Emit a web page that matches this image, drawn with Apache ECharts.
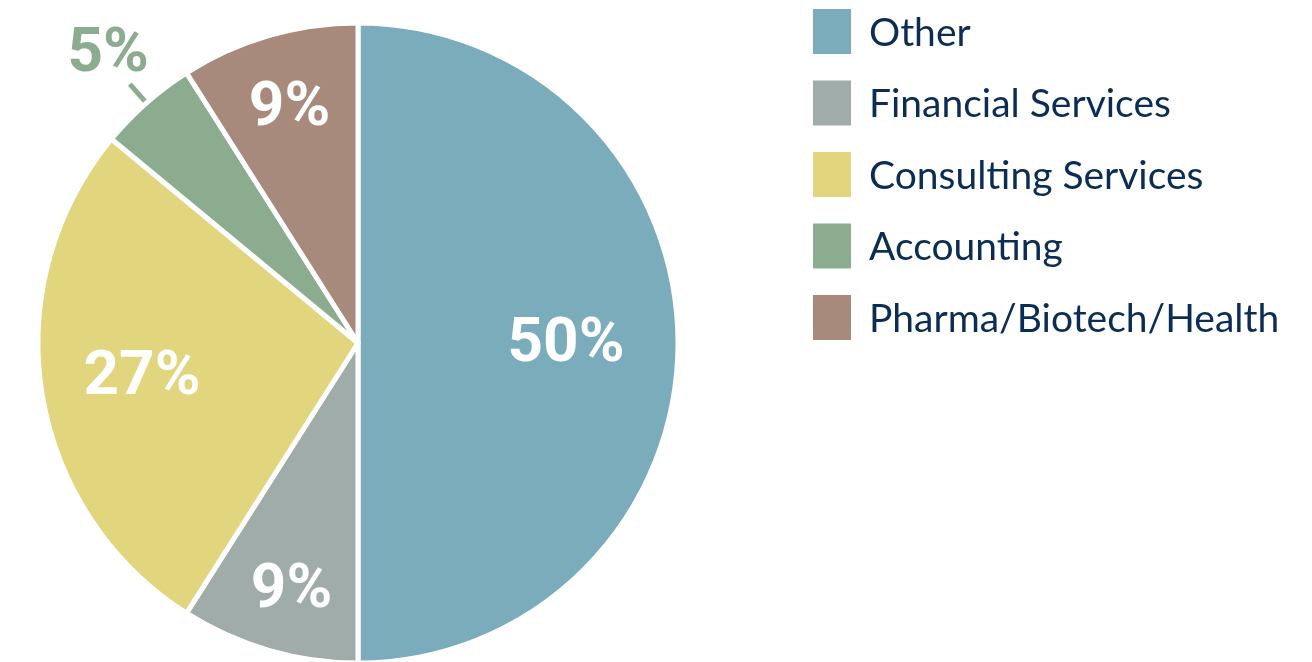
<!DOCTYPE html>
<html>
<head>
<meta charset="utf-8">
<script src="https://cdn.jsdelivr.net/npm/echarts@6/dist/echarts.min.js"></script>
<style>
html,body{margin:0;padding:0;background:#fff;}
#c{width:1312px;height:662px;}
</style>
</head>
<body>
<div id="c"></div>
<script>
const categories = ['Other', 'Financial Services', 'Consulting Services', 'Accounting', 'Pharma/Biotech/Health'];
const shares = [50, 9, 27, 5, 9];
const colors = ['#7AACBB', '#9FACA9', '#E1D57D', '#8CAC90', '#A78A7B'];

const labelFont = 'Roboto, "Liberation Sans", sans-serif';
// label offsets (layout tweaks) per slice
const labelShift = [[45, 2], [-21, 92], [-55, 10], [24, -29], [-23, -77]];

const data = categories.map((name, i) => {
  const item = { name: name, value: shares[i], itemStyle: { color: colors[i] } };
  if (name === 'Accounting') {
    item.label = { position: 'outside', color: colors[i] };
    item.labelLine = { show: true, length: 25, length2: 0, lineStyle: { color: colors[i], width: 5 } };
  }
  return item;
});

const chart = echarts.init(document.getElementById('c'), null, { renderer: 'canvas' });
chart.setOption({
  animation: false,
  legend: {
    orient: 'vertical',
    left: 813,
    top: 9,
    padding: 0,
    itemWidth: 38,
    itemHeight: 45,
    itemGap: 26.5,
    icon: 'rect',
    itemStyle: { borderWidth: 0 },
    data: categories,
    formatter: '{a|{name}}',
    textStyle: {
      rich: {
        a: { fontFamily: 'Lato, "Noto Sans", sans-serif', fontSize: 39, color: '#0B2D55', padding: [3, 0, 0, 13] }
      }
    }
  },
  series: [{
    type: 'pie',
    center: [358, 343],
    radius: 320,
    startAngle: 90,
    clockwise: true,
    avoidLabelOverlap: false,
    itemStyle: { borderColor: '#ffffff', borderWidth: 5 },
    label: {
      show: true,
      position: 'inside',
      formatter: '{c}%',
      color: '#ffffff',
      fontFamily: labelFont,
      fontWeight: 'bold',
      fontSize: 62
    },
    labelLine: { show: false },
    labelLayout: function (p) {
      const s = labelShift[p.dataIndex];
      return { dx: s[0], dy: s[1] };
    },
    emphasis: { disabled: true },
    data: data
  }]
});
</script>
</body>
</html>
